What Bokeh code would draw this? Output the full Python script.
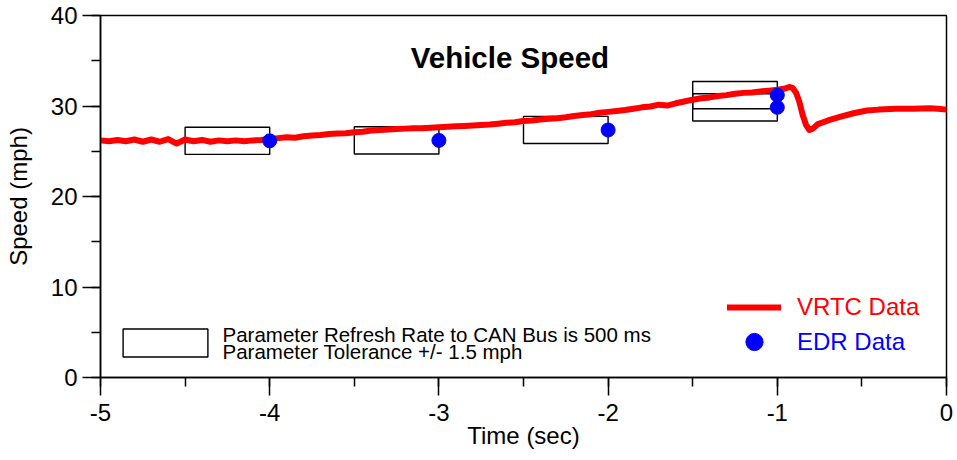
from bokeh.plotting import figure
from bokeh.models import (Legend, LegendItem, Label, SingleIntervalTicker, Range1d,
                          ColumnDataSource, CustomJSTickFormatter)
from bokeh.embed import file_html
from bokeh.resources import INLINE

# ---------------- data ----------------
time_s = [-5.00, -4.95, -4.90, -4.85, -4.80, -4.75, -4.70, -4.65, -4.60, -4.55,
          -4.50, -4.45, -4.40, -4.35, -4.30, -4.25, -4.20, -4.15, -4.10, -4.05,
          -4.00, -3.95, -3.90, -3.85, -3.80, -3.75, -3.70, -3.65, -3.60, -3.55,
          -3.50, -3.45, -3.40, -3.35, -3.30, -3.25, -3.20, -3.15, -3.10, -3.05,
          -3.00, -2.95, -2.90, -2.85, -2.80, -2.75, -2.70, -2.65, -2.60, -2.55,
          -2.50, -2.45, -2.40, -2.35, -2.30, -2.25, -2.20, -2.15, -2.10, -2.05,
          -2.00, -1.95, -1.90, -1.85, -1.80, -1.75, -1.70, -1.65, -1.60, -1.55,
          -1.50, -1.45, -1.40, -1.35, -1.30, -1.25, -1.20, -1.15, -1.10, -1.05,
          -1.00, -0.96, -0.93, -0.91, -0.89, -0.87, -0.85, -0.83, -0.81, -0.79,
          -0.76, -0.70, -0.63, -0.55, -0.47, -0.40, -0.30, -0.20, -0.10, -0.05,
          0.00]
vrtc_mph = [26.20, 26.10, 26.25, 26.10, 26.30, 26.05, 26.30, 26.05, 26.35, 25.85,
            26.30, 26.10, 26.25, 26.05, 26.20, 26.10, 26.20, 26.10, 26.20, 26.25,
            26.35, 26.45, 26.55, 26.50, 26.65, 26.75, 26.80, 26.90, 26.95, 27.00,
            27.10, 27.15, 27.30, 27.35, 27.40, 27.45, 27.50, 27.55, 27.55, 27.60,
            27.65, 27.70, 27.75, 27.80, 27.85, 27.90, 27.95, 28.05, 28.15, 28.20,
            28.35, 28.40, 28.50, 28.60, 28.65, 28.75, 28.90, 29.00, 29.10, 29.25,
            29.35, 29.45, 29.55, 29.70, 29.85, 29.95, 30.15, 30.05, 30.30, 30.50,
            30.70, 30.85, 30.95, 31.10, 31.20, 31.35, 31.45, 31.50, 31.60, 31.70,
            31.80, 31.90, 32.10, 32.00, 31.50, 30.50, 29.00, 27.90, 27.35, 27.50,
            28.00, 28.40, 28.80, 29.20, 29.50, 29.60, 29.70, 29.70, 29.75, 29.70,
            29.60]

edr_time = [-4.0, -3.0, -2.0, -1.0, -1.0]
edr_mph = [26.15, 26.2, 27.35, 31.2, 29.85]

refresh_s = 0.5
tolerance_mph = 1.5

title_text = "Vehicle Speed"
x_label = "Time (sec)"
y_label = "Speed (mph)"
series_names = ["VRTC Data", "EDR Data"]
box_note = ["Parameter Refresh Rate to CAN Bus is 500 ms", "Parameter Tolerance +/- 1.5 mph"]

# ---------------- figure ----------------
FONT = "Liberation Sans"

p = figure(width=957, height=460, output_backend="svg", toolbar_location=None,
           x_range=Range1d(-5, 0), y_range=Range1d(0, 40),
           min_border_left=100, min_border_right=11, min_border_top=15, min_border_bottom=83)
p.xgrid.visible = False
p.ygrid.visible = False
p.outline_line_color = "black"
p.outline_line_width = 1.5
p.background_fill_color = "white"
p.border_fill_color = "white"

p.xaxis.ticker = SingleIntervalTicker(interval=1, num_minor_ticks=2)
p.yaxis.ticker = SingleIntervalTicker(interval=10, num_minor_ticks=2)
for ax in (p.xaxis[0], p.yaxis[0]):
    ax.formatter = CustomJSTickFormatter(code="return tick.toFixed(0)")
    ax.axis_line_color = "black"
    ax.axis_line_width = 1.5
    ax.major_tick_line_color = "black"
    ax.major_tick_line_width = 1.5
    ax.minor_tick_line_color = "black"
    ax.minor_tick_line_width = 1.5
    ax.major_tick_out = 18
    ax.major_tick_in = 0
    ax.minor_tick_out = 9
    ax.minor_tick_in = 0
    ax.major_label_text_font = FONT
    ax.major_label_text_font_size = "24px"
    ax.major_label_text_color = "black"
    ax.axis_label_text_font = FONT
    ax.axis_label_text_font_size = "24px"
    ax.axis_label_text_font_style = "normal"
    ax.axis_label_text_color = "black"
p.xaxis.axis_label = x_label
p.yaxis.axis_label = y_label
p.xaxis.major_label_standoff = 8
p.yaxis.major_label_standoff = 5
p.xaxis.axis_label_standoff = -2
p.yaxis.axis_label_standoff = 16

# tolerance boxes
box_src = ColumnDataSource(dict(
    left=[t - refresh_s for t in edr_time],
    right=edr_time,
    bottom=[v - tolerance_mph for v in edr_mph],
    top=[v + tolerance_mph for v in edr_mph],
))
r_box = p.quad(left="left", right="right", bottom="bottom", top="top", source=box_src,
               fill_alpha=0, line_color="black", line_width=1.4)

r_line = p.line(time_s, vrtc_mph, line_color="#ff0000", line_width=6, line_join="round", line_cap="round")
r_dots = p.scatter(edr_time, edr_mph, size=14, fill_color="#0000ff", line_color="#0000ff")

# legends
def mk_legend(items, x, y, gw, gh, color, size, standoff):
    lg = Legend(items=items, location=(x, y), orientation="vertical",
                glyph_width=gw, glyph_height=gh, label_standoff=standoff,
                label_text_font=FONT, label_text_font_size=size, label_text_color=color,
                padding=0, margin=0, spacing=0, border_line_color=None,
                background_fill_alpha=0, label_height=gh)
    p.add_layout(lg, "center")
    return lg

mk_legend([LegendItem(label=series_names[0], renderers=[r_line])], 627, 55, 54, 30, "#ff0000", "24px", 16)
mk_legend([LegendItem(label=series_names[1], renderers=[r_dots])], 627, 14, 54, 43, "#0000ff", "24px", 16)
mk_legend([LegendItem(label=" ", renderers=[r_box])], 12.4, 17.5, 106, 35, "black", "10px", 3)

for txt, yy in zip(box_note, [43.2, 26.2]):
    p.add_layout(Label(x=122, y=yy, x_units="screen", y_units="screen", text=txt,
                       text_font=FONT, text_font_size="20.5px", text_color="black",
                       text_baseline="alphabetic", text_align="left"))

# title inside the frame
p.add_layout(Label(x=409.4, y=319.7, x_units="screen", y_units="screen", text=title_text,
                   text_font=FONT, text_font_style="bold", text_font_size="29.5px",
                   text_color="black", text_baseline="alphabetic", text_align="center"))

open("out.html", "w").write(file_html(p, INLINE))
